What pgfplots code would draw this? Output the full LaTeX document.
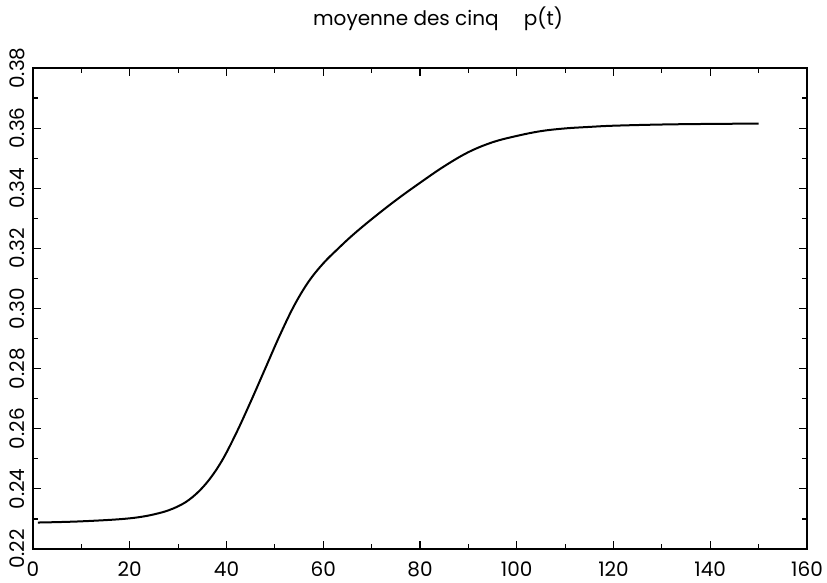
\documentclass[border=0pt]{standalone}
\usepackage{fontspec}
\setmainfont{Poppins}
\usepackage{pgfplots}
\pgfplotsset{compat=1.18}
\begin{document}
\begin{tikzpicture}
\useasboundingbox (0,0) rectangle (413.5pt,291.5pt);
\begin{axis}[
  at={(16.5pt,17pt)}, anchor=south west,
  scale only axis, width=387pt, height=240.5pt,
  xmin=0, xmax=160, ymin=0.22, ymax=0.38,
  xtick={0,20,...,160}, minor xtick={10,30,...,150},
  ytick={0.22,0.24,...,0.381}, minor ytick={0.23,0.25,...,0.371},
  tick align=inside, ticks=both,
  major tick length=4pt, minor tick length=2.5pt,
  every tick/.style={black, line width=0.6pt},
  axis line style={line width=0.9pt},
  /pgf/number format/assume math mode=true,
  /pgf/number format/.cd, fixed, fixed zerofill, precision=2, /pgfplots/.cd,
  xticklabel style={/pgf/number format/precision=0, font=\fontsize{10}{11}\selectfont, yshift=-3pt},
  yticklabel style={rotate=90, anchor=south, font=\fontsize{10}{11}\selectfont},
  yticklabel shift=0.5pt,
  title={moyenne des cinq\quad\ p(t)},
  title style={font=\fontsize{10}{12}\selectfont, yshift=9pt, xshift=9pt},
]
\addplot[black, line width=1pt, smooth, tension=0.6] coordinates {
  (1,0.2288) (10,0.2292) (20,0.2302) (26,0.2319) (30,0.2342) (33,0.2373)
  (36,0.2422) (39,0.2492) (42,0.2585) (45,0.2690) (48,0.2800) (51,0.2910)
  (54,0.3010) (57,0.3090) (60,0.3150) (63,0.3198) (66,0.3243) (70,0.3297)
  (75,0.3360) (80,0.3418) (85,0.3473) (90,0.3520) (95,0.3553) (100,0.3574)
  (105,0.3590) (110,0.3599) (115,0.3604) (120,0.3608) (130,0.3612)
  (140,0.3614) (150,0.3615)
};
\end{axis}
\end{tikzpicture}
\end{document}
